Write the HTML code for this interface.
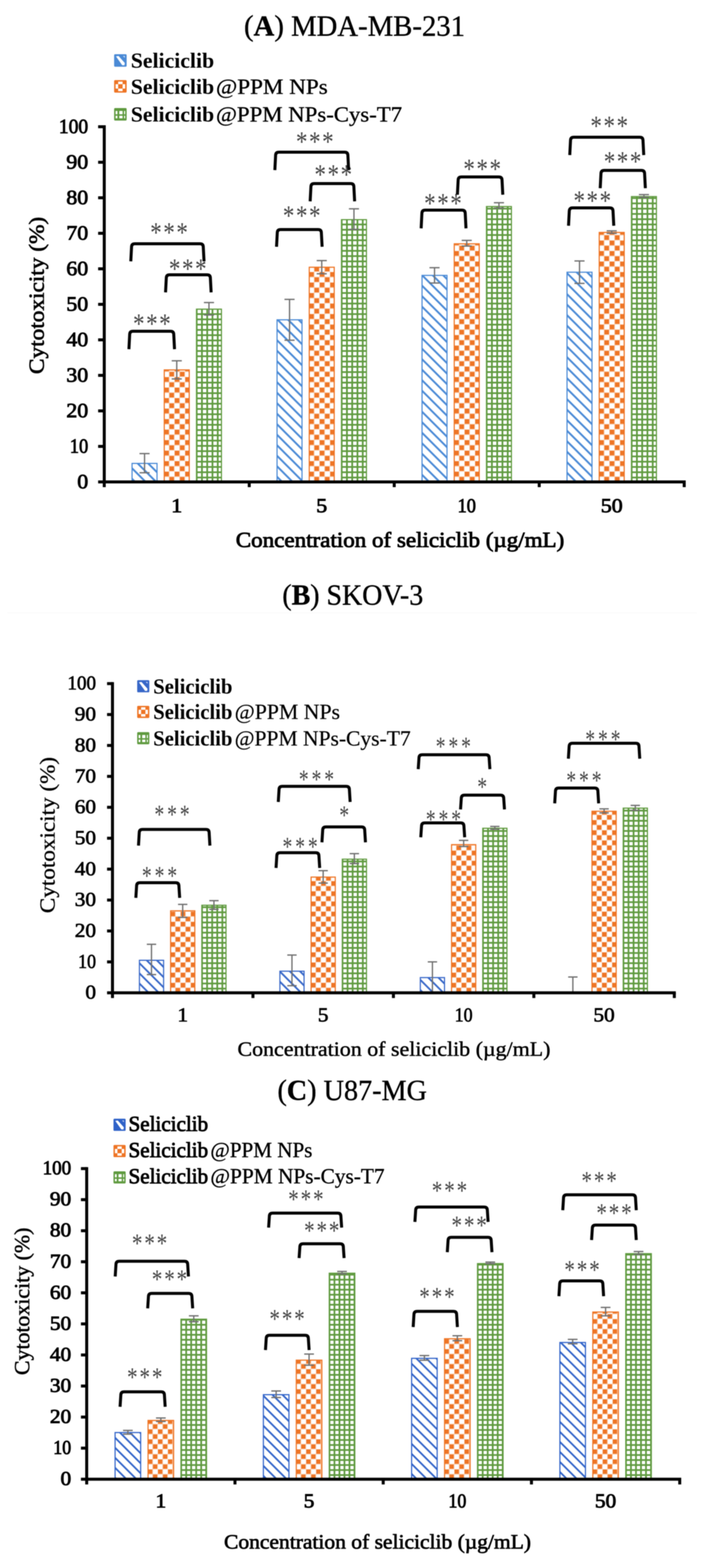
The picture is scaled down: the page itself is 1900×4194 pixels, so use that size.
<!DOCTYPE html>
<html><head><meta charset="utf-8"><title>Cytotoxicity of seliciclib formulations</title>
<style>
html,body{margin:0;padding:0;background:#fff;}
svg{display:block;filter:blur(0.8px);}
</style></head>
<body>
<svg width="1900" height="4194" viewBox="0 0 1900 4194">
<defs>
<pattern id="pbA" patternUnits="userSpaceOnUse" x="0" y="0" width="28.1" height="28.1"><path d="M-28.1,-56.2 L56.2,28.1 M-28.1,-28.1 L56.2,56.2 M-28.1,0 L56.2,84.3" stroke="#4a8ad6" stroke-width="5" fill="none"/></pattern>
<pattern id="poA" patternUnits="userSpaceOnUse" x="0" y="0" width="28.1" height="28.1"><path d="M0,14.1 H28.1 M0,0 H28.1 M14.1,0 V28.1 M0,0 V28.1" stroke="#f7c9a8" stroke-width="1.6"/><rect x="0.9" y="0.9" width="12.3" height="12.3" fill="#ee7424"/><rect x="14.9" y="14.9" width="12.3" height="12.3" fill="#ee7424"/></pattern>
<pattern id="pgA" patternUnits="userSpaceOnUse" x="0" y="0" width="14.1" height="14.1"><rect x="0" y="0" width="14.1" height="4.2" fill="#5f9a3f"/><rect x="0" y="0" width="4.2" height="14.1" fill="#5f9a3f"/></pattern>
<pattern id="pbB" patternUnits="userSpaceOnUse" x="0" y="0" width="27.2" height="27.2"><path d="M-27.2,-54.4 L54.4,27.2 M-27.2,-27.2 L54.4,54.4 M-27.2,0 L54.4,81.6" stroke="#3767c8" stroke-width="4.7" fill="none"/></pattern>
<pattern id="poB" patternUnits="userSpaceOnUse" x="0" y="0" width="28.1" height="28.1"><path d="M0,14.1 H28.1 M0,0 H28.1 M14.1,0 V28.1 M0,0 V28.1" stroke="#f7c9a8" stroke-width="1.6"/><rect x="0.9" y="0.9" width="12.3" height="12.3" fill="#ee7424"/><rect x="14.9" y="14.9" width="12.3" height="12.3" fill="#ee7424"/></pattern>
<pattern id="pgB" patternUnits="userSpaceOnUse" x="0" y="0" width="14.1" height="14.1"><rect x="0" y="0" width="14.1" height="4.2" fill="#5f9a3f"/><rect x="0" y="0" width="4.2" height="14.1" fill="#5f9a3f"/></pattern>
<pattern id="pbC" patternUnits="userSpaceOnUse" x="0" y="0" width="26.8" height="26.8"><path d="M-26.8,-53.6 L53.6,26.8 M-26.8,-26.8 L53.6,53.6 M-26.8,0 L53.6,80.4" stroke="#2f62c8" stroke-width="4.6" fill="none"/></pattern>
<pattern id="poC" patternUnits="userSpaceOnUse" x="0" y="0" width="28.1" height="28.1"><path d="M0,14.1 H28.1 M0,0 H28.1 M14.1,0 V28.1 M0,0 V28.1" stroke="#f7c9a8" stroke-width="1.6"/><rect x="0.9" y="0.9" width="12.3" height="12.3" fill="#ee7424"/><rect x="14.9" y="14.9" width="12.3" height="12.3" fill="#ee7424"/></pattern>
<pattern id="pgC" patternUnits="userSpaceOnUse" x="0" y="0" width="14.1" height="14.1"><rect x="0" y="0" width="14.1" height="4.2" fill="#5f9a3f"/><rect x="0" y="0" width="4.2" height="14.1" fill="#5f9a3f"/></pattern>
<pattern id="poA_0" patternUnits="userSpaceOnUse" x="438.6" y="1289" width="28.1" height="28.1"><path d="M0,14.1 H28.1 M0,0 H28.1 M14.1,0 V28.1 M0,0 V28.1" stroke="#f7c9a8" stroke-width="1.6"/><rect x="0.9" y="0.9" width="12.3" height="12.3" fill="#ee7424"/><rect x="14.9" y="14.9" width="12.3" height="12.3" fill="#ee7424"/></pattern>
<pattern id="pgA_0" patternUnits="userSpaceOnUse" x="524" y="1289" width="14.1" height="14.1"><rect x="0" y="0" width="14.1" height="4.6" fill="#5f9a3f"/><rect x="0" y="0" width="4.6" height="14.1" fill="#5f9a3f"/></pattern>
<pattern id="poA_1" patternUnits="userSpaceOnUse" x="826.6" y="1289" width="28.1" height="28.1"><path d="M0,14.1 H28.1 M0,0 H28.1 M14.1,0 V28.1 M0,0 V28.1" stroke="#f7c9a8" stroke-width="1.6"/><rect x="0.9" y="0.9" width="12.3" height="12.3" fill="#ee7424"/><rect x="14.9" y="14.9" width="12.3" height="12.3" fill="#ee7424"/></pattern>
<pattern id="pgA_1" patternUnits="userSpaceOnUse" x="912" y="1289" width="14.1" height="14.1"><rect x="0" y="0" width="14.1" height="4.6" fill="#5f9a3f"/><rect x="0" y="0" width="4.6" height="14.1" fill="#5f9a3f"/></pattern>
<pattern id="poA_2" patternUnits="userSpaceOnUse" x="1214.6" y="1289" width="28.1" height="28.1"><path d="M0,14.1 H28.1 M0,0 H28.1 M14.1,0 V28.1 M0,0 V28.1" stroke="#f7c9a8" stroke-width="1.6"/><rect x="0.9" y="0.9" width="12.3" height="12.3" fill="#ee7424"/><rect x="14.9" y="14.9" width="12.3" height="12.3" fill="#ee7424"/></pattern>
<pattern id="pgA_2" patternUnits="userSpaceOnUse" x="1300" y="1289" width="14.1" height="14.1"><rect x="0" y="0" width="14.1" height="4.6" fill="#5f9a3f"/><rect x="0" y="0" width="4.6" height="14.1" fill="#5f9a3f"/></pattern>
<pattern id="poA_3" patternUnits="userSpaceOnUse" x="1602.6" y="1289" width="28.1" height="28.1"><path d="M0,14.1 H28.1 M0,0 H28.1 M14.1,0 V28.1 M0,0 V28.1" stroke="#f7c9a8" stroke-width="1.6"/><rect x="0.9" y="0.9" width="12.3" height="12.3" fill="#ee7424"/><rect x="14.9" y="14.9" width="12.3" height="12.3" fill="#ee7424"/></pattern>
<pattern id="pgA_3" patternUnits="userSpaceOnUse" x="1688" y="1289" width="14.1" height="14.1"><rect x="0" y="0" width="14.1" height="4.6" fill="#5f9a3f"/><rect x="0" y="0" width="4.6" height="14.1" fill="#5f9a3f"/></pattern>
<pattern id="poB_0" patternUnits="userSpaceOnUse" x="455.6" y="2655.5" width="27.2" height="27.2"><path d="M0,13.6 H27.2 M0,0 H27.2 M13.6,0 V27.2 M0,0 V27.2" stroke="#f7c9a8" stroke-width="1.6"/><rect x="0.8" y="0.8" width="11.9" height="11.9" fill="#ee7424"/><rect x="14.4" y="14.4" width="11.9" height="11.9" fill="#ee7424"/></pattern>
<pattern id="pgB_0" patternUnits="userSpaceOnUse" x="538.3" y="2655.5" width="13.6" height="13.6"><rect x="0" y="0" width="13.6" height="4.6" fill="#5f9a3f"/><rect x="0" y="0" width="4.6" height="13.6" fill="#5f9a3f"/></pattern>
<pattern id="poB_1" patternUnits="userSpaceOnUse" x="831.5" y="2655.5" width="27.2" height="27.2"><path d="M0,13.6 H27.2 M0,0 H27.2 M13.6,0 V27.2 M0,0 V27.2" stroke="#f7c9a8" stroke-width="1.6"/><rect x="0.8" y="0.8" width="11.9" height="11.9" fill="#ee7424"/><rect x="14.4" y="14.4" width="11.9" height="11.9" fill="#ee7424"/></pattern>
<pattern id="pgB_1" patternUnits="userSpaceOnUse" x="914.2" y="2655.5" width="13.6" height="13.6"><rect x="0" y="0" width="13.6" height="4.6" fill="#5f9a3f"/><rect x="0" y="0" width="4.6" height="13.6" fill="#5f9a3f"/></pattern>
<pattern id="poB_2" patternUnits="userSpaceOnUse" x="1207.4" y="2655.5" width="27.2" height="27.2"><path d="M0,13.6 H27.2 M0,0 H27.2 M13.6,0 V27.2 M0,0 V27.2" stroke="#f7c9a8" stroke-width="1.6"/><rect x="0.8" y="0.8" width="11.9" height="11.9" fill="#ee7424"/><rect x="14.4" y="14.4" width="11.9" height="11.9" fill="#ee7424"/></pattern>
<pattern id="pgB_2" patternUnits="userSpaceOnUse" x="1290.1" y="2655.5" width="13.6" height="13.6"><rect x="0" y="0" width="13.6" height="4.6" fill="#5f9a3f"/><rect x="0" y="0" width="4.6" height="13.6" fill="#5f9a3f"/></pattern>
<pattern id="poB_3" patternUnits="userSpaceOnUse" x="1583.2" y="2655.5" width="27.2" height="27.2"><path d="M0,13.6 H27.2 M0,0 H27.2 M13.6,0 V27.2 M0,0 V27.2" stroke="#f7c9a8" stroke-width="1.6"/><rect x="0.8" y="0.8" width="11.9" height="11.9" fill="#ee7424"/><rect x="14.4" y="14.4" width="11.9" height="11.9" fill="#ee7424"/></pattern>
<pattern id="pgB_3" patternUnits="userSpaceOnUse" x="1666" y="2655.5" width="13.6" height="13.6"><rect x="0" y="0" width="13.6" height="4.6" fill="#5f9a3f"/><rect x="0" y="0" width="4.6" height="13.6" fill="#5f9a3f"/></pattern>
<pattern id="poC_0" patternUnits="userSpaceOnUse" x="395.2" y="3956.5" width="26.8" height="26.8"><path d="M0,13.4 H26.8 M0,0 H26.8 M13.4,0 V26.8 M0,0 V26.8" stroke="#f7c9a8" stroke-width="1.6"/><rect x="0.8" y="0.8" width="11.7" height="11.7" fill="#ee7424"/><rect x="14.2" y="14.2" width="11.7" height="11.7" fill="#ee7424"/></pattern>
<pattern id="pgC_0" patternUnits="userSpaceOnUse" x="482.5" y="3956.5" width="13.4" height="13.4"><rect x="0" y="0" width="13.4" height="4.6" fill="#5f9a3f"/><rect x="0" y="0" width="4.6" height="13.4" fill="#5f9a3f"/></pattern>
<pattern id="poC_1" patternUnits="userSpaceOnUse" x="791.9" y="3956.5" width="26.8" height="26.8"><path d="M0,13.4 H26.8 M0,0 H26.8 M13.4,0 V26.8 M0,0 V26.8" stroke="#f7c9a8" stroke-width="1.6"/><rect x="0.8" y="0.8" width="11.7" height="11.7" fill="#ee7424"/><rect x="14.2" y="14.2" width="11.7" height="11.7" fill="#ee7424"/></pattern>
<pattern id="pgC_1" patternUnits="userSpaceOnUse" x="879.3" y="3956.5" width="13.4" height="13.4"><rect x="0" y="0" width="13.4" height="4.6" fill="#5f9a3f"/><rect x="0" y="0" width="4.6" height="13.4" fill="#5f9a3f"/></pattern>
<pattern id="poC_2" patternUnits="userSpaceOnUse" x="1188.7" y="3956.5" width="26.8" height="26.8"><path d="M0,13.4 H26.8 M0,0 H26.8 M13.4,0 V26.8 M0,0 V26.8" stroke="#f7c9a8" stroke-width="1.6"/><rect x="0.8" y="0.8" width="11.7" height="11.7" fill="#ee7424"/><rect x="14.2" y="14.2" width="11.7" height="11.7" fill="#ee7424"/></pattern>
<pattern id="pgC_2" patternUnits="userSpaceOnUse" x="1276" y="3956.5" width="13.4" height="13.4"><rect x="0" y="0" width="13.4" height="4.6" fill="#5f9a3f"/><rect x="0" y="0" width="4.6" height="13.4" fill="#5f9a3f"/></pattern>
<pattern id="poC_3" patternUnits="userSpaceOnUse" x="1585.4" y="3956.5" width="26.8" height="26.8"><path d="M0,13.4 H26.8 M0,0 H26.8 M13.4,0 V26.8 M0,0 V26.8" stroke="#f7c9a8" stroke-width="1.6"/><rect x="0.8" y="0.8" width="11.7" height="11.7" fill="#ee7424"/><rect x="14.2" y="14.2" width="11.7" height="11.7" fill="#ee7424"/></pattern>
<pattern id="pgC_3" patternUnits="userSpaceOnUse" x="1672.8" y="3956.5" width="13.4" height="13.4"><rect x="0" y="0" width="13.4" height="4.6" fill="#5f9a3f"/><rect x="0" y="0" width="4.6" height="13.4" fill="#5f9a3f"/></pattern>
</defs>
<rect width="1900" height="4194" fill="#fff"/>
<path d="M20,1639.5 H1865" stroke="#f6f6f6" stroke-width="1.5"/>
<g id="chartA">
<text x="653" y="95" font-family="'Liberation Serif', serif" font-size="78" textLength="591.5" lengthAdjust="spacingAndGlyphs" stroke="#000" stroke-width="0.9">(<tspan font-weight="bold">A</tspan>) MDA-MB-231</text>
<rect x="353.4" y="1239.5" width="66.8" height="49.5" fill="url(#pbA)" stroke="#4a8ad6" stroke-width="3"/>
<rect x="439.6" y="989.4" width="66.8" height="299.6" fill="url(#poA_0)" stroke="#ee7424" stroke-width="3"/>
<rect x="525.8" y="826.9" width="66.8" height="462.1" fill="url(#pgA_0)" stroke="#5f9a3f" stroke-width="3"/>
<path d="M386.8,1213.3 V1264.5 M373.3,1213.3 H400.3 M373.3,1264.5 H400.3" stroke="#707070" stroke-width="3.5" fill="none"/>
<path d="M473,965 V1013.5 M459.5,965 H486.5 M459.5,1013.5 H486.5" stroke="#707070" stroke-width="3.5" fill="none"/>
<path d="M559.2,809.2 V842.5 M545.7,809.2 H572.7 M545.7,842.5 H572.7" stroke="#707070" stroke-width="3.5" fill="none"/>
<rect x="741.4" y="855.4" width="66.8" height="433.6" fill="url(#pbA)" stroke="#4a8ad6" stroke-width="3"/>
<rect x="827.6" y="714.8" width="66.8" height="574.2" fill="url(#poA_1)" stroke="#ee7424" stroke-width="3"/>
<rect x="913.8" y="587.5" width="66.8" height="701.5" fill="url(#pgA_1)" stroke="#5f9a3f" stroke-width="3"/>
<path d="M774.8,800.7 V910 M761.3,800.7 H788.3 M761.3,910 H788.3" stroke="#707070" stroke-width="3.5" fill="none"/>
<path d="M861,697.1 V732.3 M847.5,697.1 H874.5 M847.5,732.3 H874.5" stroke="#707070" stroke-width="3.5" fill="none"/>
<path d="M947.2,558.4 V613.6 M933.7,558.4 H960.7 M933.7,613.6 H960.7" stroke="#707070" stroke-width="3.5" fill="none"/>
<rect x="1129.4" y="736.6" width="66.8" height="552.4" fill="url(#pbA)" stroke="#4a8ad6" stroke-width="3"/>
<rect x="1215.6" y="652.1" width="66.8" height="636.9" fill="url(#poA_2)" stroke="#ee7424" stroke-width="3"/>
<rect x="1301.8" y="552.4" width="66.8" height="736.6" fill="url(#pgA_2)" stroke="#5f9a3f" stroke-width="3"/>
<path d="M1162.8,716.1 V757 M1149.3,716.1 H1176.3 M1149.3,757 H1176.3" stroke="#707070" stroke-width="3.5" fill="none"/>
<path d="M1249,643 V658.2 M1235.5,643 H1262.5 M1235.5,658.2 H1262.5" stroke="#707070" stroke-width="3.5" fill="none"/>
<path d="M1335.2,542.3 V556.6 M1321.7,542.3 H1348.7 M1321.7,556.6 H1348.7" stroke="#707070" stroke-width="3.5" fill="none"/>
<rect x="1517.4" y="728.1" width="66.8" height="560.9" fill="url(#pbA)" stroke="#4a8ad6" stroke-width="3"/>
<rect x="1603.6" y="621.7" width="66.8" height="667.3" fill="url(#poA_3)" stroke="#ee7424" stroke-width="3"/>
<rect x="1689.8" y="525.8" width="66.8" height="763.2" fill="url(#pgA_3)" stroke="#5f9a3f" stroke-width="3"/>
<path d="M1550.8,698.1 V758 M1537.3,698.1 H1564.3 M1537.3,758 H1564.3" stroke="#707070" stroke-width="3.5" fill="none"/>
<path d="M1637,617.4 V624 M1623.5,617.4 H1650.5 M1623.5,624 H1650.5" stroke="#707070" stroke-width="3.5" fill="none"/>
<path d="M1723.2,520.4 V528.1 M1709.7,520.4 H1736.7 M1709.7,528.1 H1736.7" stroke="#707070" stroke-width="3.5" fill="none"/>
<path d="M279,335 V1303" stroke="#000" stroke-width="8" fill="none"/>
<path d="M262.6,1289 H279" stroke="#000" stroke-width="8"/>
<path d="M262.6,1194 H279" stroke="#000" stroke-width="8"/>
<path d="M262.6,1099 H279" stroke="#000" stroke-width="8"/>
<path d="M262.6,1004 H279" stroke="#000" stroke-width="8"/>
<path d="M262.6,909 H279" stroke="#000" stroke-width="8"/>
<path d="M262.6,814 H279" stroke="#000" stroke-width="8"/>
<path d="M262.6,719 H279" stroke="#000" stroke-width="8"/>
<path d="M262.6,624 H279" stroke="#000" stroke-width="8"/>
<path d="M262.6,529 H279" stroke="#000" stroke-width="8"/>
<path d="M262.6,434 H279" stroke="#000" stroke-width="8"/>
<path d="M262.6,339 H279" stroke="#000" stroke-width="8"/>
<path d="M279,1289 H1835" stroke="#000" stroke-width="8" fill="none"/>
<path d="M667,1289 V1303" stroke="#000" stroke-width="8"/>
<path d="M1055,1289 V1303" stroke="#000" stroke-width="8"/>
<path d="M1443,1289 V1303" stroke="#000" stroke-width="8"/>
<path d="M1831,1289 V1303" stroke="#000" stroke-width="8"/>
<text x="236" y="1305.6" font-family="'Liberation Serif', serif" font-size="55" stroke="#000" stroke-width="2.0" text-anchor="end" textLength="29.3" lengthAdjust="spacingAndGlyphs">0</text>
<text x="236" y="1210.6" font-family="'Liberation Serif', serif" font-size="55" stroke="#000" stroke-width="2.0" text-anchor="end" textLength="49.2" lengthAdjust="spacingAndGlyphs">10</text>
<text x="236" y="1115.6" font-family="'Liberation Serif', serif" font-size="55" stroke="#000" stroke-width="2.0" text-anchor="end" textLength="58.6" lengthAdjust="spacingAndGlyphs">20</text>
<text x="236" y="1020.6" font-family="'Liberation Serif', serif" font-size="55" stroke="#000" stroke-width="2.0" text-anchor="end" textLength="58.6" lengthAdjust="spacingAndGlyphs">30</text>
<text x="236" y="925.6" font-family="'Liberation Serif', serif" font-size="55" stroke="#000" stroke-width="2.0" text-anchor="end" textLength="58.6" lengthAdjust="spacingAndGlyphs">40</text>
<text x="236" y="830.6" font-family="'Liberation Serif', serif" font-size="55" stroke="#000" stroke-width="2.0" text-anchor="end" textLength="58.6" lengthAdjust="spacingAndGlyphs">50</text>
<text x="236" y="735.6" font-family="'Liberation Serif', serif" font-size="55" stroke="#000" stroke-width="2.0" text-anchor="end" textLength="58.6" lengthAdjust="spacingAndGlyphs">60</text>
<text x="236" y="640.6" font-family="'Liberation Serif', serif" font-size="55" stroke="#000" stroke-width="2.0" text-anchor="end" textLength="58.6" lengthAdjust="spacingAndGlyphs">70</text>
<text x="236" y="545.6" font-family="'Liberation Serif', serif" font-size="55" stroke="#000" stroke-width="2.0" text-anchor="end" textLength="58.6" lengthAdjust="spacingAndGlyphs">80</text>
<text x="236" y="450.6" font-family="'Liberation Serif', serif" font-size="55" stroke="#000" stroke-width="2.0" text-anchor="end" textLength="58.6" lengthAdjust="spacingAndGlyphs">90</text>
<text x="236" y="355.6" font-family="'Liberation Serif', serif" font-size="55" stroke="#000" stroke-width="2.0" text-anchor="end" textLength="78.5" lengthAdjust="spacingAndGlyphs">100</text>
<text x="473" y="1369.9" font-family="'Liberation Serif', serif" font-size="52" stroke="#000" stroke-width="2.0" text-anchor="middle" textLength="29.3" lengthAdjust="spacingAndGlyphs">1</text>
<text x="861" y="1369.9" font-family="'Liberation Serif', serif" font-size="52" stroke="#000" stroke-width="2.0" text-anchor="middle" textLength="29.3" lengthAdjust="spacingAndGlyphs">5</text>
<text x="1249" y="1369.9" font-family="'Liberation Serif', serif" font-size="52" stroke="#000" stroke-width="2.0" text-anchor="middle" textLength="49.2" lengthAdjust="spacingAndGlyphs">10</text>
<text x="1637" y="1369.9" font-family="'Liberation Serif', serif" font-size="52" stroke="#000" stroke-width="2.0" text-anchor="middle" textLength="58.6" lengthAdjust="spacingAndGlyphs">50</text>
<g transform="translate(305.4,144.9) scale(0.9853)"><rect x="0" y="0" width="34" height="34" rx="3" fill="#4a8ad6"/><path d="M5,6 L12,5 L29,24 L28,30 L22,30 Z" fill="#fff"/><path d="M24,5 L29,5 L29,10 Z" fill="#fff" opacity="0.8"/></g>
<text x="350" y="181.4" font-family="'Liberation Serif', serif" font-size="58" font-weight="bold" textLength="223" lengthAdjust="spacingAndGlyphs">Seliciclib</text>
<g transform="translate(305.4,214.3) scale(0.9853)"><rect x="0" y="0" width="34" height="34" rx="3" fill="#ee7424"/><rect x="11" y="4" width="12" height="7" fill="#fff"/><rect x="11" y="23" width="12" height="7" fill="#fff"/><rect x="4" y="11" width="7" height="12" fill="#fff"/><rect x="23" y="11" width="7" height="12" fill="#fff"/></g>
<text x="350" y="250.8" font-family="'Liberation Serif', serif" font-size="58" font-weight="bold" textLength="223" lengthAdjust="spacingAndGlyphs">Seliciclib</text>
<text x="578" y="250.8" font-family="'Liberation Serif', serif" font-size="58" stroke="#000" stroke-width="0.8" textLength="299" lengthAdjust="spacingAndGlyphs">@PPM NPs</text>
<g transform="translate(305.4,288.9) scale(0.9853)"><rect x="0" y="0" width="34" height="34" rx="3" fill="#5f9a3f"/><rect x="4" y="8" width="5" height="9" fill="#fff"/><rect x="4" y="21" width="5" height="7" fill="#fff"/><rect x="14" y="8" width="9" height="9" fill="#fff"/><rect x="14" y="21" width="9" height="7" fill="#fff"/><rect x="27" y="8" width="3" height="9" fill="#fff"/><rect x="27" y="21" width="3" height="7" fill="#fff"/></g>
<text x="350" y="325.4" font-family="'Liberation Serif', serif" font-size="58" font-weight="bold" textLength="223" lengthAdjust="spacingAndGlyphs">Seliciclib</text>
<text x="578" y="325.4" font-family="'Liberation Serif', serif" font-size="58" stroke="#000" stroke-width="0.8" textLength="498" lengthAdjust="spacingAndGlyphs">@PPM NPs-Cys-T7</text>
<text x="0" y="0" font-family="'Liberation Serif', serif" font-size="58" stroke="#000" stroke-width="1.6" text-anchor="middle" textLength="420.5" lengthAdjust="spacingAndGlyphs" transform="translate(117,790.2) rotate(-90)">Cytotoxicity (%)</text>
<text x="631" y="1463.2" font-family="'Liberation Serif', serif" font-size="56" stroke="#000" stroke-width="2.0" textLength="879" lengthAdjust="spacingAndGlyphs">Concentration of seliciclib (µg/mL)</text>
<path d="M345,934 L347,895 Q347,886 356,886 L456,886 Q465,886 465,895 L467,934" fill="none" stroke="#000" stroke-width="8" stroke-linejoin="round"/>
<text transform="scale(0.8190,1)" x="434.6 477.3 520.1" y="890.7" font-family="'Liberation Serif', serif" font-size="75.1" fill="#444">***</text>
<path d="M443,782 L445,744 Q445,735 454,735 L554,735 Q563,735 563,744 L565,782" fill="none" stroke="#000" stroke-width="8" stroke-linejoin="round"/>
<text transform="scale(0.8190,1)" x="551.8 594.6 637.3" y="743.7" font-family="'Liberation Serif', serif" font-size="75.1" fill="#444">***</text>
<path d="M350,699 L352,661 Q352,652 361,652 L535,652 Q544,652 544,661 L546,699" fill="none" stroke="#000" stroke-width="8" stroke-linejoin="round"/>
<text transform="scale(0.8190,1)" x="490.8 533.5 576.3" y="646.7" font-family="'Liberation Serif', serif" font-size="75.1" fill="#444">***</text>
<path d="M740,660 L742,623 Q742,614 751,614 L851,614 Q860,614 860,623 L862,660" fill="none" stroke="#000" stroke-width="8" stroke-linejoin="round"/>
<text transform="scale(0.8190,1)" x="924.3 967 1009.7" y="601.7" font-family="'Liberation Serif', serif" font-size="75.1" fill="#444">***</text>
<path d="M830,538.5 L832,500 Q832,491 841,491 L938,491 Q947,491 947,500 L949,538.5" fill="none" stroke="#000" stroke-width="8" stroke-linejoin="round"/>
<text transform="scale(0.8190,1)" x="1027.4 1070.2 1112.9" y="491.7" font-family="'Liberation Serif', serif" font-size="75.1" fill="#444">***</text>
<path d="M735.5,455 L737.5,416 Q737.5,407 746.5,407 L922,407 Q931,407 931,416 L933,455" fill="none" stroke="#000" stroke-width="8" stroke-linejoin="round"/>
<text transform="scale(0.8190,1)" x="967 1009.7 1052.5" y="403.7" font-family="'Liberation Serif', serif" font-size="75.1" fill="#444">***</text>
<path d="M1127,610.8 L1129,571 Q1129,562 1138,562 L1236,562 Q1245,562 1245,571 L1247,610.8" fill="none" stroke="#000" stroke-width="8" stroke-linejoin="round"/>
<text transform="scale(0.8190,1)" x="1385.8 1428.6 1471.3" y="569.4" font-family="'Liberation Serif', serif" font-size="75.1" fill="#444">***</text>
<path d="M1224,520.8 L1226,482.3 Q1226,473.3 1235,473.3 L1334.5,473.3 Q1343.5,473.3 1343.5,482.3 L1345.5,520.8" fill="none" stroke="#000" stroke-width="8" stroke-linejoin="round"/>
<text transform="scale(0.8190,1)" x="1514 1556.8 1599.5" y="476.7" font-family="'Liberation Serif', serif" font-size="75.1" fill="#444">***</text>
<path d="M1521.4,603.7 L1523.4,565 Q1523.4,556 1532.4,556 L1631.5,556 Q1640.5,556 1640.5,565 L1642.5,603.7" fill="none" stroke="#000" stroke-width="8" stroke-linejoin="round"/>
<text transform="scale(0.8190,1)" x="1873.8 1916.5 1959.2" y="562.2" font-family="'Liberation Serif', serif" font-size="75.1" fill="#444">***</text>
<path d="M1606.2,503.4 L1608.2,464.8 Q1608.2,455.8 1617.2,455.8 L1716,455.8 Q1725,455.8 1725,464.8 L1727,503.4" fill="none" stroke="#000" stroke-width="8" stroke-linejoin="round"/>
<text transform="scale(0.8190,1)" x="1972.7 2015.4 2058.1" y="456.7" font-family="'Liberation Serif', serif" font-size="75.1" fill="#444">***</text>
<path d="M1524.7,414.7 L1526.7,376 Q1526.7,367 1535.7,367 L1711.7,367 Q1720.7,367 1720.7,376 L1722.7,414.7" fill="none" stroke="#000" stroke-width="8" stroke-linejoin="round"/>
<text transform="scale(0.8190,1)" x="1929.2 1971.9 2014.7" y="361.7" font-family="'Liberation Serif', serif" font-size="75.1" fill="#444">***</text>
</g>
<g id="chartB">
<text x="755.5" y="1616.5" font-family="'Liberation Serif', serif" font-size="78" textLength="377" lengthAdjust="spacingAndGlyphs" stroke="#000" stroke-width="0.9">(<tspan font-weight="bold">B</tspan>) SKOV-3</text>
<rect x="373.1" y="2568.5" width="64.7" height="87" fill="url(#pbB)" stroke="#3767c8" stroke-width="3"/>
<rect x="456.6" y="2436.2" width="64.7" height="219.3" fill="url(#poB_0)" stroke="#ee7424" stroke-width="3"/>
<rect x="540.1" y="2421.3" width="64.7" height="234.2" fill="url(#pgB_0)" stroke="#5f9a3f" stroke-width="3"/>
<path d="M405.4,2525.7 V2606.7 M392.9,2525.7 H417.9 M392.9,2606.7 H417.9" stroke="#707070" stroke-width="3.5" fill="none"/>
<path d="M488.9,2419 V2453.7 M476.4,2419 H501.4 M476.4,2453.7 H501.4" stroke="#707070" stroke-width="3.5" fill="none"/>
<path d="M572.5,2409.1 V2432.2 M560,2409.1 H585 M560,2432.2 H585" stroke="#707070" stroke-width="3.5" fill="none"/>
<rect x="749" y="2597.7" width="64.7" height="57.8" fill="url(#pbB)" stroke="#3767c8" stroke-width="3"/>
<rect x="832.5" y="2346" width="64.7" height="309.5" fill="url(#poB_1)" stroke="#ee7424" stroke-width="3"/>
<rect x="916" y="2298.1" width="64.7" height="357.4" fill="url(#pgB_1)" stroke="#5f9a3f" stroke-width="3"/>
<path d="M781.3,2554.6 V2636.5 M768.8,2554.6 H793.8 M768.8,2636.5 H793.8" stroke="#707070" stroke-width="3.5" fill="none"/>
<path d="M864.8,2328.8 V2361.9 M852.3,2328.8 H877.3 M852.3,2361.9 H877.3" stroke="#707070" stroke-width="3.5" fill="none"/>
<path d="M948.3,2283.3 V2309.8 M935.8,2283.3 H960.8 M935.8,2309.8 H960.8" stroke="#707070" stroke-width="3.5" fill="none"/>
<rect x="1124.8" y="2614.8" width="64.7" height="40.7" fill="url(#pbB)" stroke="#3767c8" stroke-width="3"/>
<rect x="1208.4" y="2259.2" width="64.7" height="396.3" fill="url(#poB_2)" stroke="#ee7424" stroke-width="3"/>
<rect x="1291.9" y="2215.4" width="64.7" height="440.1" fill="url(#pgB_2)" stroke="#5f9a3f" stroke-width="3"/>
<path d="M1157.2,2572.8 V2653.8 M1144.7,2572.8 H1169.7 M1144.7,2653.8 H1169.7" stroke="#707070" stroke-width="3.5" fill="none"/>
<path d="M1240.7,2247.8 V2264.3 M1228.2,2247.8 H1253.2 M1228.2,2264.3 H1253.2" stroke="#707070" stroke-width="3.5" fill="none"/>
<path d="M1324.2,2210.6 V2218 M1311.7,2210.6 H1336.7 M1311.7,2218 H1336.7" stroke="#707070" stroke-width="3.5" fill="none"/>
<rect x="1584.2" y="2169.9" width="64.7" height="485.6" fill="url(#poB_3)" stroke="#ee7424" stroke-width="3"/>
<rect x="1667.8" y="2161.6" width="64.7" height="493.9" fill="url(#pgB_3)" stroke="#5f9a3f" stroke-width="3"/>
<path d="M1533,2613.3 V2655.5 M1520.5,2613.3 H1545.5 M1520.5,2655.5 H1545.5" stroke="#707070" stroke-width="3.5" fill="none"/>
<path d="M1616.6,2163.4 V2174.2 M1604.1,2163.4 H1629.1 M1604.1,2174.2 H1629.1" stroke="#707070" stroke-width="3.5" fill="none"/>
<path d="M1700.1,2154.3 V2167.6 M1687.6,2154.3 H1712.6 M1687.6,2167.6 H1712.6" stroke="#707070" stroke-width="3.5" fill="none"/>
<path d="M301,1824.5 V2669.5" stroke="#000" stroke-width="8" fill="none"/>
<path d="M286.5,2655.5 H301" stroke="#000" stroke-width="8"/>
<path d="M286.5,2572.8 H301" stroke="#000" stroke-width="8"/>
<path d="M286.5,2490.1 H301" stroke="#000" stroke-width="8"/>
<path d="M286.5,2407.4 H301" stroke="#000" stroke-width="8"/>
<path d="M286.5,2324.7 H301" stroke="#000" stroke-width="8"/>
<path d="M286.5,2242 H301" stroke="#000" stroke-width="8"/>
<path d="M286.5,2159.3 H301" stroke="#000" stroke-width="8"/>
<path d="M286.5,2076.6 H301" stroke="#000" stroke-width="8"/>
<path d="M286.5,1993.9 H301" stroke="#000" stroke-width="8"/>
<path d="M286.5,1911.2 H301" stroke="#000" stroke-width="8"/>
<path d="M286.5,1828.5 H301" stroke="#000" stroke-width="8"/>
<path d="M301,2655.5 H1808.5" stroke="#000" stroke-width="8" fill="none"/>
<path d="M676.9,2655.5 V2669.5" stroke="#000" stroke-width="8"/>
<path d="M1052.8,2655.5 V2669.5" stroke="#000" stroke-width="8"/>
<path d="M1428.6,2655.5 V2669.5" stroke="#000" stroke-width="8"/>
<path d="M1804.5,2655.5 V2669.5" stroke="#000" stroke-width="8"/>
<text x="257" y="2671.4" font-family="'Liberation Serif', serif" font-size="53" stroke="#000" stroke-width="1.6" text-anchor="end" textLength="28.5" lengthAdjust="spacingAndGlyphs">0</text>
<text x="257" y="2588.7" font-family="'Liberation Serif', serif" font-size="53" stroke="#000" stroke-width="1.6" text-anchor="end" textLength="47.9" lengthAdjust="spacingAndGlyphs">10</text>
<text x="257" y="2506" font-family="'Liberation Serif', serif" font-size="53" stroke="#000" stroke-width="1.6" text-anchor="end" textLength="57" lengthAdjust="spacingAndGlyphs">20</text>
<text x="257" y="2423.3" font-family="'Liberation Serif', serif" font-size="53" stroke="#000" stroke-width="1.6" text-anchor="end" textLength="57" lengthAdjust="spacingAndGlyphs">30</text>
<text x="257" y="2340.6" font-family="'Liberation Serif', serif" font-size="53" stroke="#000" stroke-width="1.6" text-anchor="end" textLength="57" lengthAdjust="spacingAndGlyphs">40</text>
<text x="257" y="2257.9" font-family="'Liberation Serif', serif" font-size="53" stroke="#000" stroke-width="1.6" text-anchor="end" textLength="57" lengthAdjust="spacingAndGlyphs">50</text>
<text x="257" y="2175.2" font-family="'Liberation Serif', serif" font-size="53" stroke="#000" stroke-width="1.6" text-anchor="end" textLength="57" lengthAdjust="spacingAndGlyphs">60</text>
<text x="257" y="2092.5" font-family="'Liberation Serif', serif" font-size="53" stroke="#000" stroke-width="1.6" text-anchor="end" textLength="57" lengthAdjust="spacingAndGlyphs">70</text>
<text x="257" y="2009.8" font-family="'Liberation Serif', serif" font-size="53" stroke="#000" stroke-width="1.6" text-anchor="end" textLength="57" lengthAdjust="spacingAndGlyphs">80</text>
<text x="257" y="1927.1" font-family="'Liberation Serif', serif" font-size="53" stroke="#000" stroke-width="1.6" text-anchor="end" textLength="57" lengthAdjust="spacingAndGlyphs">90</text>
<text x="257" y="1844.4" font-family="'Liberation Serif', serif" font-size="53" stroke="#000" stroke-width="1.6" text-anchor="end" textLength="76.4" lengthAdjust="spacingAndGlyphs">100</text>
<text x="488.9" y="2731.8" font-family="'Liberation Serif', serif" font-size="53" stroke="#000" stroke-width="1.6" text-anchor="middle" textLength="28.5" lengthAdjust="spacingAndGlyphs">1</text>
<text x="864.8" y="2731.8" font-family="'Liberation Serif', serif" font-size="53" stroke="#000" stroke-width="1.6" text-anchor="middle" textLength="28.5" lengthAdjust="spacingAndGlyphs">5</text>
<text x="1240.7" y="2731.8" font-family="'Liberation Serif', serif" font-size="53" stroke="#000" stroke-width="1.6" text-anchor="middle" textLength="47.9" lengthAdjust="spacingAndGlyphs">10</text>
<text x="1616.6" y="2731.8" font-family="'Liberation Serif', serif" font-size="53" stroke="#000" stroke-width="1.6" text-anchor="middle" textLength="57" lengthAdjust="spacingAndGlyphs">50</text>
<g transform="translate(367.1,1819.3) scale(0.9559)"><rect x="0" y="0" width="34" height="34" rx="3" fill="#3767c8"/><path d="M5,6 L12,5 L29,24 L28,30 L22,30 Z" fill="#fff"/><path d="M24,5 L29,5 L29,10 Z" fill="#fff" opacity="0.8"/></g>
<text x="410" y="1854.8" font-family="'Liberation Serif', serif" font-size="56" font-weight="bold" textLength="212" lengthAdjust="spacingAndGlyphs">Seliciclib</text>
<g transform="translate(367.1,1887.9) scale(0.9559)"><rect x="0" y="0" width="34" height="34" rx="3" fill="#ee7424"/><rect x="11" y="4" width="12" height="7" fill="#fff"/><rect x="11" y="23" width="12" height="7" fill="#fff"/><rect x="4" y="11" width="7" height="12" fill="#fff"/><rect x="23" y="11" width="7" height="12" fill="#fff"/></g>
<text x="410" y="1923.4" font-family="'Liberation Serif', serif" font-size="56" font-weight="bold" textLength="212" lengthAdjust="spacingAndGlyphs">Seliciclib</text>
<text x="628" y="1923.4" font-family="'Liberation Serif', serif" font-size="56" stroke="#000" stroke-width="0.5" textLength="282" lengthAdjust="spacingAndGlyphs">@PPM NPs</text>
<g transform="translate(367.1,1958.2) scale(0.9559)"><rect x="0" y="0" width="34" height="34" rx="3" fill="#5f9a3f"/><rect x="4" y="8" width="5" height="9" fill="#fff"/><rect x="4" y="21" width="5" height="7" fill="#fff"/><rect x="14" y="8" width="9" height="9" fill="#fff"/><rect x="14" y="21" width="9" height="7" fill="#fff"/><rect x="27" y="8" width="3" height="9" fill="#fff"/><rect x="27" y="21" width="3" height="7" fill="#fff"/></g>
<text x="410" y="1993.7" font-family="'Liberation Serif', serif" font-size="56" font-weight="bold" textLength="212" lengthAdjust="spacingAndGlyphs">Seliciclib</text>
<text x="628" y="1993.7" font-family="'Liberation Serif', serif" font-size="56" stroke="#000" stroke-width="0.5" textLength="471" lengthAdjust="spacingAndGlyphs">@PPM NPs-Cys-T7</text>
<text x="0" y="0" font-family="'Liberation Serif', serif" font-size="58" stroke="#000" stroke-width="0.8" text-anchor="middle" textLength="418" lengthAdjust="spacingAndGlyphs" transform="translate(145.5,2233.5) rotate(-90)">Cytotoxicity (%)</text>
<text x="635.5" y="2824" font-family="'Liberation Serif', serif" font-size="54" stroke="#000" stroke-width="1.0" textLength="837.5" lengthAdjust="spacingAndGlyphs">Concentration of seliciclib (µg/mL)</text>
<path d="M363.5,2401.6 L365.5,2370 Q365.5,2361 374.5,2361 L469.8,2361 Q478.8,2361 478.8,2370 L480.8,2401.6" fill="none" stroke="#000" stroke-width="8" stroke-linejoin="round"/>
<text transform="scale(0.7359,1)" x="515.9 562.1 608.3" y="2365.6" font-family="'Liberation Serif', serif" font-size="71.4" fill="#444">***</text>
<path d="M370.6,2261.8 L372.6,2227.5 Q372.6,2218.5 381.6,2218.5 L550.7,2218.5 Q559.7,2218.5 559.7,2227.5 L561.7,2261.8" fill="none" stroke="#000" stroke-width="8" stroke-linejoin="round"/>
<text transform="scale(0.7359,1)" x="561.7 607.9 654.1" y="2201.9" font-family="'Liberation Serif', serif" font-size="71.4" fill="#444">***</text>
<path d="M738.7,2321.5 L740.7,2289.7 Q740.7,2280.7 749.7,2280.7 L844.5,2280.7 Q853.5,2280.7 853.5,2289.7 L855.5,2321.5" fill="none" stroke="#000" stroke-width="8" stroke-linejoin="round"/>
<text transform="scale(0.7359,1)" x="1027.2 1073.4 1119.6" y="2288.2" font-family="'Liberation Serif', serif" font-size="71.4" fill="#444">***</text>
<path d="M861.5,2253 L863.5,2220.8 Q863.5,2211.8 872.5,2211.8 L967,2211.8 Q976,2211.8 976,2220.8 L978,2253" fill="none" stroke="#000" stroke-width="8" stroke-linejoin="round"/>
<text transform="scale(0.7359,1)" x="1234" y="2204.2" font-family="'Liberation Serif', serif" font-size="71.4" fill="#444">*</text>
<path d="M744.7,2145 L746.7,2112.2 Q746.7,2103.2 755.7,2103.2 L926,2103.2 Q935,2103.2 935,2112.2 L937,2145" fill="none" stroke="#000" stroke-width="8" stroke-linejoin="round"/>
<text transform="scale(0.7359,1)" x="1086.9 1133.1 1179.3" y="2108.3" font-family="'Liberation Serif', serif" font-size="71.4" fill="#444">***</text>
<path d="M1126,2239.5 L1128,2210 Q1128,2201 1137,2201 L1232.5,2201 Q1241.5,2201 1241.5,2210 L1243.5,2239.5" fill="none" stroke="#000" stroke-width="8" stroke-linejoin="round"/>
<text transform="scale(0.7359,1)" x="1548.5 1594.7 1640.9" y="2214.6" font-family="'Liberation Serif', serif" font-size="71.4" fill="#444">***</text>
<path d="M1232.4,2165 L1234.4,2135.7 Q1234.4,2126.7 1243.4,2126.7 L1339,2126.7 Q1348,2126.7 1348,2135.7 L1350,2165" fill="none" stroke="#000" stroke-width="8" stroke-linejoin="round"/>
<text transform="scale(0.7359,1)" x="1735.7" y="2128.2" font-family="'Liberation Serif', serif" font-size="71.4" fill="#444">*</text>
<path d="M1119.2,2057.2 L1121.2,2027.8 Q1121.2,2018.8 1130.2,2018.8 L1300,2018.8 Q1309,2018.8 1309,2027.8 L1311,2057.2" fill="none" stroke="#000" stroke-width="8" stroke-linejoin="round"/>
<text transform="scale(0.7359,1)" x="1584.4 1630.6 1676.8" y="2020.3" font-family="'Liberation Serif', serif" font-size="71.4" fill="#444">***</text>
<path d="M1484.4,2148.8 L1486.4,2116.7 Q1486.4,2107.7 1495.4,2107.7 L1591,2107.7 Q1600,2107.7 1600,2116.7 L1602,2148.8" fill="none" stroke="#000" stroke-width="8" stroke-linejoin="round"/>
<text transform="scale(0.7359,1)" x="2059.3 2105.5 2151.7" y="2110.7" font-family="'Liberation Serif', serif" font-size="71.4" fill="#444">***</text>
<path d="M1521,2029.3 L1523,1997 Q1523,1988 1532,1988 L1701,1988 Q1710,1988 1710,1997 L1712,2029.3" fill="none" stroke="#000" stroke-width="8" stroke-linejoin="round"/>
<text transform="scale(0.7359,1)" x="2128.2 2174.4 2220.6" y="2000.9" font-family="'Liberation Serif', serif" font-size="71.4" fill="#444">***</text>
</g>
<g id="chartC">
<text x="742.5" y="2941.5" font-family="'Liberation Serif', serif" font-size="78" textLength="400" lengthAdjust="spacingAndGlyphs" stroke="#000" stroke-width="0.9">(<tspan font-weight="bold">C</tspan>) U87-MG</text>
<rect x="308" y="3831.7" width="68.4" height="124.8" fill="url(#pbC)" stroke="#2f62c8" stroke-width="3"/>
<rect x="396.2" y="3799.3" width="68.4" height="157.2" fill="url(#poC_0)" stroke="#ee7424" stroke-width="3"/>
<rect x="484.3" y="3528.5" width="68.4" height="428" fill="url(#pgC_0)" stroke="#5f9a3f" stroke-width="3"/>
<path d="M342.2,3826.1 V3836 M329.2,3826.1 H355.2 M329.2,3836 H355.2" stroke="#707070" stroke-width="3.5" fill="none"/>
<path d="M430.4,3792.8 V3802 M417.4,3792.8 H443.4 M417.4,3802 H443.4" stroke="#707070" stroke-width="3.5" fill="none"/>
<path d="M518.5,3519.5 V3535.3 M505.5,3519.5 H531.5 M505.5,3535.3 H531.5" stroke="#707070" stroke-width="3.5" fill="none"/>
<rect x="704.8" y="3730.4" width="68.4" height="226.1" fill="url(#pbC)" stroke="#2f62c8" stroke-width="3"/>
<rect x="792.9" y="3638.1" width="68.4" height="318.4" fill="url(#poC_1)" stroke="#ee7424" stroke-width="3"/>
<rect x="881.1" y="3405.5" width="68.4" height="551" fill="url(#pgC_1)" stroke="#5f9a3f" stroke-width="3"/>
<path d="M739,3720.6 V3738 M726,3720.6 H752 M726,3738 H752" stroke="#707070" stroke-width="3.5" fill="none"/>
<path d="M827.1,3621.7 V3651.6 M814.1,3621.7 H840.1 M814.1,3651.6 H840.1" stroke="#707070" stroke-width="3.5" fill="none"/>
<path d="M915.3,3400.7 V3407.3 M902.3,3400.7 H928.3 M902.3,3407.3 H928.3" stroke="#707070" stroke-width="3.5" fill="none"/>
<rect x="1101.5" y="3633.2" width="68.4" height="323.3" fill="url(#pbC)" stroke="#2f62c8" stroke-width="3"/>
<rect x="1189.7" y="3580.8" width="68.4" height="375.7" fill="url(#poC_2)" stroke="#ee7424" stroke-width="3"/>
<rect x="1277.8" y="3379.8" width="68.4" height="576.7" fill="url(#pgC_2)" stroke="#5f9a3f" stroke-width="3"/>
<path d="M1135.7,3625.8 V3638.3 M1122.7,3625.8 H1148.7 M1122.7,3638.3 H1148.7" stroke="#707070" stroke-width="3.5" fill="none"/>
<path d="M1223.9,3572.7 V3586 M1210.9,3572.7 H1236.9 M1210.9,3586 H1236.9" stroke="#707070" stroke-width="3.5" fill="none"/>
<path d="M1312,3375.8 V3379.9 M1299,3375.8 H1325 M1299,3379.9 H1325" stroke="#707070" stroke-width="3.5" fill="none"/>
<rect x="1498.3" y="3590.8" width="68.4" height="365.7" fill="url(#pbC)" stroke="#2f62c8" stroke-width="3"/>
<rect x="1586.4" y="3509.4" width="68.4" height="447.1" fill="url(#poC_3)" stroke="#ee7424" stroke-width="3"/>
<rect x="1674.6" y="3353.2" width="68.4" height="603.3" fill="url(#pgC_3)" stroke="#5f9a3f" stroke-width="3"/>
<path d="M1532.5,3582.6 V3594.3 M1519.5,3582.6 H1545.5 M1519.5,3594.3 H1545.5" stroke="#707070" stroke-width="3.5" fill="none"/>
<path d="M1620.6,3497.1 V3519.5 M1607.6,3497.1 H1633.6 M1607.6,3519.5 H1633.6" stroke="#707070" stroke-width="3.5" fill="none"/>
<path d="M1708.8,3347.5 V3355 M1695.8,3347.5 H1721.8 M1695.8,3355 H1721.8" stroke="#707070" stroke-width="3.5" fill="none"/>
<path d="M232,3121.7 V3970.5" stroke="#000" stroke-width="8" fill="none"/>
<path d="M216.6,3956.5 H232" stroke="#000" stroke-width="8"/>
<path d="M216.6,3873.4 H232" stroke="#000" stroke-width="8"/>
<path d="M216.6,3790.3 H232" stroke="#000" stroke-width="8"/>
<path d="M216.6,3707.3 H232" stroke="#000" stroke-width="8"/>
<path d="M216.6,3624.2 H232" stroke="#000" stroke-width="8"/>
<path d="M216.6,3541.1 H232" stroke="#000" stroke-width="8"/>
<path d="M216.6,3458 H232" stroke="#000" stroke-width="8"/>
<path d="M216.6,3374.9 H232" stroke="#000" stroke-width="8"/>
<path d="M216.6,3291.9 H232" stroke="#000" stroke-width="8"/>
<path d="M216.6,3208.8 H232" stroke="#000" stroke-width="8"/>
<path d="M216.6,3125.7 H232" stroke="#000" stroke-width="8"/>
<path d="M232,3956.5 H1823" stroke="#000" stroke-width="8" fill="none"/>
<path d="M628.8,3956.5 V3970.5" stroke="#000" stroke-width="8"/>
<path d="M1025.5,3956.5 V3970.5" stroke="#000" stroke-width="8"/>
<path d="M1422.2,3956.5 V3970.5" stroke="#000" stroke-width="8"/>
<path d="M1819,3956.5 V3970.5" stroke="#000" stroke-width="8"/>
<text x="190.5" y="3972.1" font-family="'Liberation Serif', serif" font-size="52" stroke="#000" stroke-width="2.0" text-anchor="end" textLength="28.5" lengthAdjust="spacingAndGlyphs">0</text>
<text x="190.5" y="3889" font-family="'Liberation Serif', serif" font-size="52" stroke="#000" stroke-width="2.0" text-anchor="end" textLength="47.9" lengthAdjust="spacingAndGlyphs">10</text>
<text x="190.5" y="3805.9" font-family="'Liberation Serif', serif" font-size="52" stroke="#000" stroke-width="2.0" text-anchor="end" textLength="57" lengthAdjust="spacingAndGlyphs">20</text>
<text x="190.5" y="3722.8" font-family="'Liberation Serif', serif" font-size="52" stroke="#000" stroke-width="2.0" text-anchor="end" textLength="57" lengthAdjust="spacingAndGlyphs">30</text>
<text x="190.5" y="3639.8" font-family="'Liberation Serif', serif" font-size="52" stroke="#000" stroke-width="2.0" text-anchor="end" textLength="57" lengthAdjust="spacingAndGlyphs">40</text>
<text x="190.5" y="3556.7" font-family="'Liberation Serif', serif" font-size="52" stroke="#000" stroke-width="2.0" text-anchor="end" textLength="57" lengthAdjust="spacingAndGlyphs">50</text>
<text x="190.5" y="3473.6" font-family="'Liberation Serif', serif" font-size="52" stroke="#000" stroke-width="2.0" text-anchor="end" textLength="57" lengthAdjust="spacingAndGlyphs">60</text>
<text x="190.5" y="3390.5" font-family="'Liberation Serif', serif" font-size="52" stroke="#000" stroke-width="2.0" text-anchor="end" textLength="57" lengthAdjust="spacingAndGlyphs">70</text>
<text x="190.5" y="3307.4" font-family="'Liberation Serif', serif" font-size="52" stroke="#000" stroke-width="2.0" text-anchor="end" textLength="57" lengthAdjust="spacingAndGlyphs">80</text>
<text x="190.5" y="3224.4" font-family="'Liberation Serif', serif" font-size="52" stroke="#000" stroke-width="2.0" text-anchor="end" textLength="57" lengthAdjust="spacingAndGlyphs">90</text>
<text x="190.5" y="3141.3" font-family="'Liberation Serif', serif" font-size="52" stroke="#000" stroke-width="2.0" text-anchor="end" textLength="76.4" lengthAdjust="spacingAndGlyphs">100</text>
<text x="430.4" y="4031.8" font-family="'Liberation Serif', serif" font-size="52" stroke="#000" stroke-width="2.0" text-anchor="middle" textLength="28.5" lengthAdjust="spacingAndGlyphs">1</text>
<text x="827.1" y="4031.8" font-family="'Liberation Serif', serif" font-size="52" stroke="#000" stroke-width="2.0" text-anchor="middle" textLength="28.5" lengthAdjust="spacingAndGlyphs">5</text>
<text x="1223.9" y="4031.8" font-family="'Liberation Serif', serif" font-size="52" stroke="#000" stroke-width="2.0" text-anchor="middle" textLength="47.9" lengthAdjust="spacingAndGlyphs">10</text>
<text x="1620.6" y="4031.8" font-family="'Liberation Serif', serif" font-size="52" stroke="#000" stroke-width="2.0" text-anchor="middle" textLength="57" lengthAdjust="spacingAndGlyphs">50</text>
<g transform="translate(303.7,2992.3) scale(0.9559)"><rect x="0" y="0" width="34" height="34" rx="3" fill="#2f62c8"/><path d="M5,6 L12,5 L29,24 L28,30 L22,30 Z" fill="#fff"/><path d="M24,5 L29,5 L29,10 Z" fill="#fff" opacity="0.8"/></g>
<text x="344" y="3024.8" font-family="'Liberation Serif', serif" font-size="56" stroke="#000" stroke-width="2.0" textLength="213" lengthAdjust="spacingAndGlyphs">Seliciclib</text>
<g transform="translate(303.7,3062.6) scale(0.9559)"><rect x="0" y="0" width="34" height="34" rx="3" fill="#ee7424"/><rect x="11" y="4" width="12" height="7" fill="#fff"/><rect x="11" y="23" width="12" height="7" fill="#fff"/><rect x="4" y="11" width="7" height="12" fill="#fff"/><rect x="23" y="11" width="7" height="12" fill="#fff"/></g>
<text x="344" y="3095.1" font-family="'Liberation Serif', serif" font-size="56" stroke="#000" stroke-width="2.0" textLength="213" lengthAdjust="spacingAndGlyphs">Seliciclib</text>
<text x="563" y="3095.1" font-family="'Liberation Serif', serif" font-size="56" stroke="#000" stroke-width="0.8" textLength="273" lengthAdjust="spacingAndGlyphs">@PPM NPs</text>
<g transform="translate(303.7,3132.9) scale(0.9559)"><rect x="0" y="0" width="34" height="34" rx="3" fill="#5f9a3f"/><rect x="4" y="8" width="5" height="9" fill="#fff"/><rect x="4" y="21" width="5" height="7" fill="#fff"/><rect x="14" y="8" width="9" height="9" fill="#fff"/><rect x="14" y="21" width="9" height="7" fill="#fff"/><rect x="27" y="8" width="3" height="9" fill="#fff"/><rect x="27" y="21" width="3" height="7" fill="#fff"/></g>
<text x="344" y="3165.4" font-family="'Liberation Serif', serif" font-size="56" stroke="#000" stroke-width="2.0" textLength="213" lengthAdjust="spacingAndGlyphs">Seliciclib</text>
<text x="563" y="3165.4" font-family="'Liberation Serif', serif" font-size="56" stroke="#000" stroke-width="0.8" textLength="466" lengthAdjust="spacingAndGlyphs">@PPM NPs-Cys-T7</text>
<text x="0" y="0" font-family="'Liberation Serif', serif" font-size="56" stroke="#000" stroke-width="1.2" text-anchor="middle" textLength="394.5" lengthAdjust="spacingAndGlyphs" transform="translate(78,3480.8) rotate(-90)">Cytotoxicity (%)</text>
<text x="599.5" y="4141.5" font-family="'Liberation Serif', serif" font-size="54" stroke="#000" stroke-width="1.6" textLength="821.5" lengthAdjust="spacingAndGlyphs">Concentration of seliciclib (µg/mL)</text>
<path d="M321.3,3762.7 L323.3,3731.7 Q323.3,3722.7 332.3,3722.7 L431,3722.7 Q440,3722.7 440,3731.7 L442,3762.7" fill="none" stroke="#000" stroke-width="8" stroke-linejoin="round"/>
<text transform="scale(0.7897,1)" x="430.7 472.8 514.8" y="3706.7" font-family="'Liberation Serif', serif" font-size="71.4" fill="#444">***</text>
<path d="M395.2,3499.5 L397.2,3468.4 Q397.2,3459.4 406.2,3459.4 L504.6,3459.4 Q513.6,3459.4 513.6,3468.4 L515.6,3499.5" fill="none" stroke="#000" stroke-width="8" stroke-linejoin="round"/>
<text transform="scale(0.7897,1)" x="514.3 556.4 598.4" y="3444.6" font-family="'Liberation Serif', serif" font-size="71.4" fill="#444">***</text>
<path d="M308.3,3414.3 L310.3,3382.6 Q310.3,3373.6 319.3,3373.6 L493.3,3373.6 Q502.3,3373.6 502.3,3382.6 L504.3,3414.3" fill="none" stroke="#000" stroke-width="8" stroke-linejoin="round"/>
<text transform="scale(0.7897,1)" x="447 489 531" y="3349.2" font-family="'Liberation Serif', serif" font-size="71.4" fill="#444">***</text>
<path d="M710.4,3611 L712.4,3580.4 Q712.4,3571.4 721.4,3571.4 L816.2,3571.4 Q825.2,3571.4 825.2,3580.4 L827.2,3611" fill="none" stroke="#000" stroke-width="8" stroke-linejoin="round"/>
<text transform="scale(0.7897,1)" x="912.9 955 997" y="3550.9" font-family="'Liberation Serif', serif" font-size="71.4" fill="#444">***</text>
<path d="M800.4,3365 L802.4,3335.8 Q802.4,3326.8 811.4,3326.8 L909.8,3326.8 Q918.8,3326.8 918.8,3335.8 L920.8,3365" fill="none" stroke="#000" stroke-width="8" stroke-linejoin="round"/>
<text transform="scale(0.7897,1)" x="1030.4 1072.5 1114.5" y="3315.1" font-family="'Liberation Serif', serif" font-size="71.4" fill="#444">***</text>
<path d="M718.8,3283.6 L720.8,3253.7 Q720.8,3244.7 729.8,3244.7 L903.3,3244.7 Q912.3,3244.7 912.3,3253.7 L914.3,3283.6" fill="none" stroke="#000" stroke-width="8" stroke-linejoin="round"/>
<text transform="scale(0.7897,1)" x="976.7 1018.8 1060.8" y="3230.6" font-family="'Liberation Serif', serif" font-size="71.4" fill="#444">***</text>
<path d="M1105.7,3549.6 L1107.7,3516.4 Q1107.7,3507.4 1116.7,3507.4 L1213,3507.4 Q1222,3507.4 1222,3516.4 L1224,3549.6" fill="none" stroke="#000" stroke-width="8" stroke-linejoin="round"/>
<text transform="scale(0.7897,1)" x="1420.9 1463 1505" y="3492.4" font-family="'Liberation Serif', serif" font-size="71.4" fill="#444">***</text>
<path d="M1197,3349.3 L1199,3318.4 Q1199,3309.4 1208,3309.4 L1305.5,3309.4 Q1314.5,3309.4 1314.5,3318.4 L1316.5,3349.3" fill="none" stroke="#000" stroke-width="8" stroke-linejoin="round"/>
<text transform="scale(0.7897,1)" x="1530 1572 1614" y="3300.9" font-family="'Liberation Serif', serif" font-size="71.4" fill="#444">***</text>
<path d="M1110.3,3268.3 L1112.3,3237.4 Q1112.3,3228.4 1121.3,3228.4 L1295.2,3228.4 Q1304.2,3228.4 1304.2,3237.4 L1306.2,3268.3" fill="none" stroke="#000" stroke-width="8" stroke-linejoin="round"/>
<text transform="scale(0.7897,1)" x="1463.2 1505.3 1547.3" y="3208.3" font-family="'Liberation Serif', serif" font-size="71.4" fill="#444">***</text>
<path d="M1495.7,3467 L1497.7,3435 Q1497.7,3426 1506.7,3426 L1604.3,3426 Q1613.3,3426 1613.3,3435 L1615.3,3467" fill="none" stroke="#000" stroke-width="8" stroke-linejoin="round"/>
<text transform="scale(0.7897,1)" x="1912.5 1954.5 1996.6" y="3420" font-family="'Liberation Serif', serif" font-size="71.4" fill="#444">***</text>
<path d="M1583.1,3316.7 L1585.1,3285.8 Q1585.1,3276.8 1594.1,3276.8 L1691.7,3276.8 Q1700.7,3276.8 1700.7,3285.8 L1702.7,3316.7" fill="none" stroke="#000" stroke-width="8" stroke-linejoin="round"/>
<text transform="scale(0.7897,1)" x="2020.9 2062.9 2105" y="3268.3" font-family="'Liberation Serif', serif" font-size="71.4" fill="#444">***</text>
<path d="M1506,3237 L1508,3204.8 Q1508,3195.8 1517,3195.8 L1691.7,3195.8 Q1700.7,3195.8 1700.7,3204.8 L1702.7,3237" fill="none" stroke="#000" stroke-width="8" stroke-linejoin="round"/>
<text transform="scale(0.7897,1)" x="1970.5 2012.5 2054.6" y="3181.7" font-family="'Liberation Serif', serif" font-size="71.4" fill="#444">***</text>
</g>
</svg>
</body></html>
